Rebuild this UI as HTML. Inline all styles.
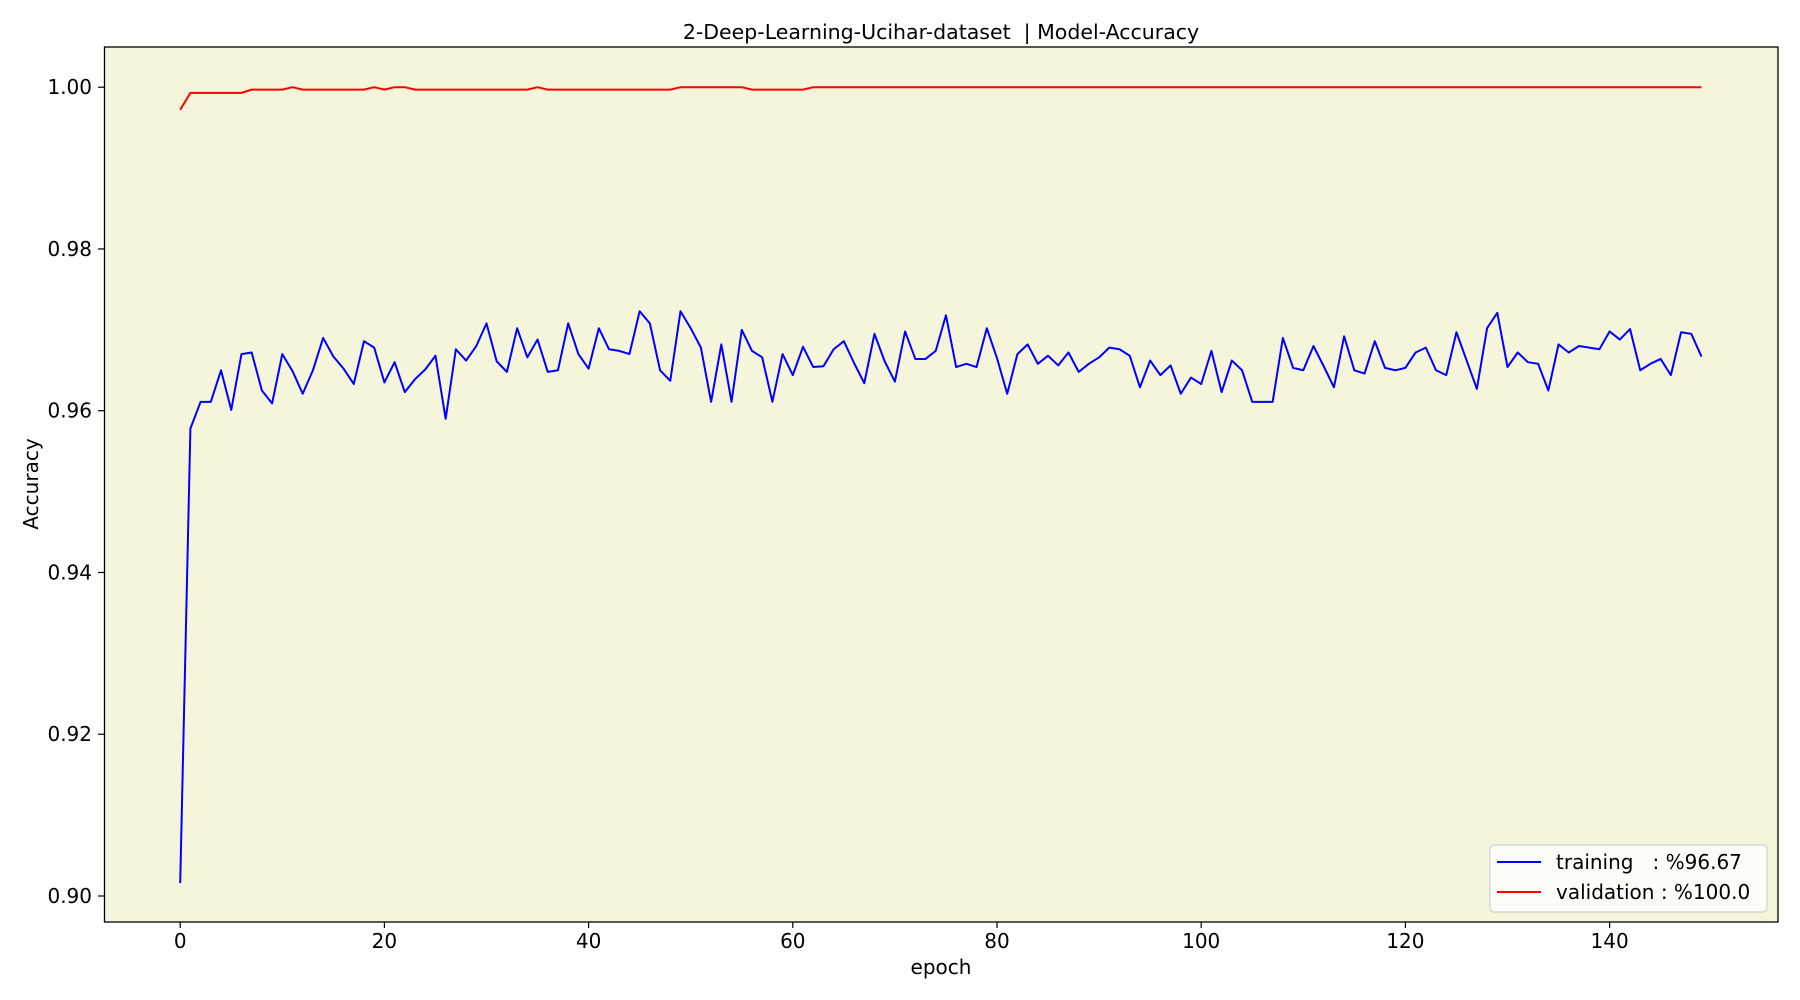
<!DOCTYPE html>
<html><head><meta charset="utf-8"><style>
body{margin:0;background:#fff;width:1800px;height:1000px;overflow:hidden}
svg{display:block;font-family:"DejaVu Sans","Liberation Sans",sans-serif}
</style></head><body>
<svg id="chart" width="1800" height="1000" viewBox="0 0 1800 1000" xmlns="http://www.w3.org/2000/svg">
<rect x="104.5" y="47" width="1673.5" height="875" fill="#f5f5dc"/>
<g id="ticks"></g>
<g id="series"></g>
<rect x="104.5" y="47" width="1673.5" height="875" fill="none" stroke="#000" stroke-width="1.3"/>
<text x="941" y="39" font-size="20.5" text-anchor="middle" xml:space="preserve" style="white-space:pre">2-Deep-Learning-Ucihar-dataset  | Model-Accuracy</text>
<text x="941" y="974" font-size="20" text-anchor="middle">epoch</text>
<text x="38" y="484" font-size="20" text-anchor="middle" transform="rotate(-90 38 484)">Accuracy</text>
<g>
<rect x="1490" y="845" width="277" height="67" rx="4" fill="#fcfcf8" stroke="#d0d0d0" stroke-width="1.2"/>
<line x1="1497" y1="862" x2="1541" y2="862" stroke="#0000ff" stroke-width="2"/>
<text x="1556" y="869" font-size="20" style="white-space:pre" xml:space="preserve">training   : %96.67</text>
<line x1="1497" y1="892" x2="1541" y2="892" stroke="#ff0000" stroke-width="2"/>
<text x="1556" y="899" font-size="20">validation : %100.0</text>
</g>
</svg>
<script>
const training=[0.9016,0.9578,0.9611,0.9611,0.9650,0.9601,0.9670,0.9672,0.9625,0.9609,0.9670,0.9649,0.9621,0.9650,0.9690,0.9667,0.9652,0.9633,0.9686,0.9678,0.9635,0.9660,0.9623,0.9639,0.9651,0.9668,0.9590,0.9676,0.9662,0.9680,0.9708,0.9661,0.9648,0.9702,0.9666,0.9688,0.9648,0.9650,0.9708,0.9670,0.9652,0.9702,0.9676,0.9674,0.9670,0.9723,0.9708,0.9650,0.9637,0.9723,0.9702,0.9678,0.9611,0.9682,0.9611,0.9700,0.9674,0.9666,0.9611,0.9670,0.9644,0.9679,0.9654,0.9655,0.9676,0.9686,0.9659,0.9634,0.9695,0.9661,0.9636,0.9698,0.9664,0.9664,0.9674,0.9718,0.9654,0.9658,0.9654,0.9702,0.9665,0.9621,0.9670,0.9682,0.9658,0.9668,0.9656,0.9672,0.9648,0.9658,0.9666,0.9678,0.9676,0.9668,0.9629,0.9662,0.9644,0.9656,0.9621,0.9641,0.9633,0.9674,0.9623,0.9662,0.9650,0.9611,0.9611,0.9611,0.9690,0.9653,0.9650,0.9680,0.9655,0.9629,0.9692,0.9650,0.9646,0.9686,0.9653,0.9650,0.9653,0.9672,0.9678,0.9650,0.9644,0.9697,0.9662,0.9627,0.9702,0.9721,0.9654,0.9672,0.9660,0.9658,0.9625,0.9682,0.9672,0.9680,0.9678,0.9676,0.9698,0.9688,0.9701,0.9650,0.9658,0.9664,0.9644,0.9697,0.9695,0.9667];
const validation=[0.9972,
0.9993,0.9993,0.9993,0.9993,0.9993,0.9993,
0.9997,0.9997,0.9997,0.9997,
1.0,
0.9997,0.9997,0.9997,0.9997,0.9997,0.9997,0.9997,
1.0,0.9997,1.0,1.0,
0.9997,0.9997,0.9997,0.9997,0.9997,0.9997,0.9997,0.9997,0.9997,0.9997,0.9997,0.9997,
1.0,
0.9997,0.9997,0.9997,0.9997,0.9997,0.9997,0.9997,0.9997,0.9997,0.9997,0.9997,0.9997,0.9997,
1.0,1.0,1.0,1.0,1.0,1.0,1.0,
0.9997,0.9997,0.9997,0.9997,0.9997,0.9997,
1.0,1.0,1.0,1.0,1.0,1.0,1.0,1.0,1.0,1.0,1.0,
1.0,1.0,1.0,1.0,1.0,1.0,1.0,1.0,1.0,1.0,1.0,
1.0,1.0,1.0,1.0,1.0,1.0,1.0,1.0,1.0,1.0,1.0,
1.0,1.0,1.0,1.0,1.0,1.0,1.0,1.0,1.0,1.0,1.0,
1.0,1.0,1.0,1.0,1.0,1.0,1.0,1.0,1.0,1.0,1.0,
1.0,1.0,1.0,1.0,1.0,1.0,1.0,1.0,1.0,1.0,1.0,
1.0,1.0,1.0,1.0,1.0,1.0,1.0,1.0,1.0,1.0,1.0,
1.0,1.0,1.0,1.0,1.0,1.0,1.0,1.0,1.0,1.0,1.0];
const xTicks=[0,20,40,60,80,100,120,140];
const yTicks=[0.90,0.92,0.94,0.96,0.98,1.00];
const yTickLabels=["0.90","0.92","0.94","0.96","0.98","1.00"];

const NS="http://www.w3.org/2000/svg";
function xs(e){return 180.2+10.21*e;}
function ys(v){return 896-(v-0.90)*8088;}
const tg=document.getElementById('ticks');
function mk(tag,attrs,parent){const el=document.createElementNS(NS,tag);for(const k in attrs)el.setAttribute(k,attrs[k]);parent.appendChild(el);return el;}
xTicks.forEach(t=>{
  const l=mk('line',{x1:xs(t),x2:xs(t),y1:922,y2:928,stroke:'#000','stroke-width':1.2},tg);
  
  
  const tx=mk('text',{x:xs(t),y:948,'font-size':20,'text-anchor':'middle'},tg);
  tx.textContent=String(t);
  
  
});
yTicks.forEach((t,i)=>{
  const l=mk('line',{x1:98,x2:104.5,y1:ys(t),y2:ys(t),stroke:'#000','stroke-width':1.2},tg);
  
  
  const tx=mk('text',{x:92,y:ys(t)+7,'font-size':20,'text-anchor':'end'},tg);
  tx.textContent=yTickLabels[i];
  
  
});
const sg=document.getElementById('series');
function line(arr,color,name){
  const pts=arr.map((v,i)=>xs(i).toFixed(2)+','+ys(v).toFixed(2)).join(' ');
  const p=mk('polyline',{points:pts,fill:'none',stroke:color,'stroke-width':2,'stroke-linejoin':'round'},sg);
  
  
}
line(training,'#0000ff','training-line');
line(validation,'#ff0000','validation-line');
</script>
</body></html>
